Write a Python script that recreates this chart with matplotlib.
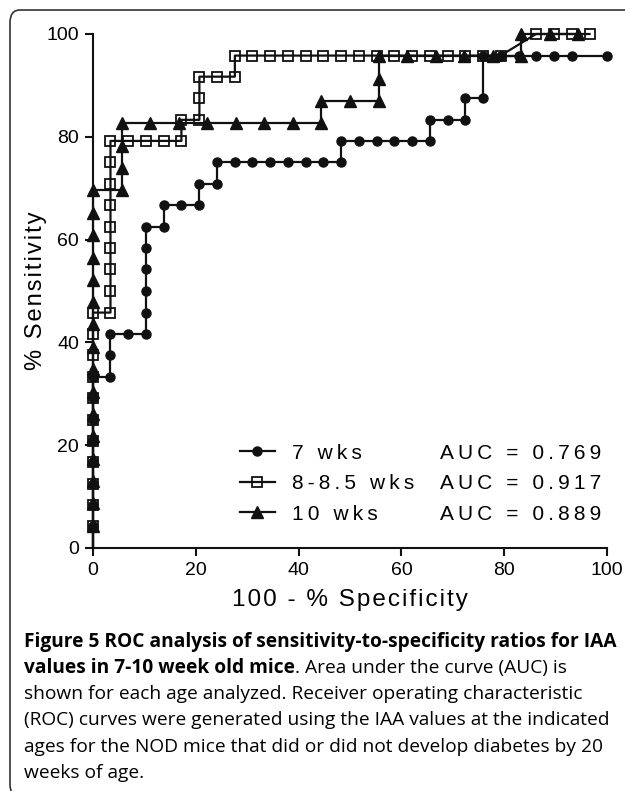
import matplotlib
matplotlib.use("Agg")
import matplotlib.pyplot as plt
from matplotlib.patches import FancyBboxPatch

# ROC points: x = 100 - % specificity, y = % sensitivity
x_7wk = [0, 0, 0, 0, 0, 0, 0, 0, 0,
         3.4, 3.4, 3.4, 6.9, 10.3, 10.3, 10.3, 10.3, 10.3, 10.3,
         13.8, 13.8, 17.2, 20.7, 20.7, 24.1, 24.1, 27.6, 31.0, 34.5, 37.9, 41.4, 44.8, 48.3,
         48.3, 51.7, 55.2, 58.6, 62.1, 65.5, 65.5, 69.0, 72.4, 72.4, 75.9, 75.9,
         79.3, 82.8, 86.2, 89.7, 93.1, 100]
y_7wk = [0, 4.2, 8.3, 12.5, 16.7, 20.8, 25.0, 29.2, 33.3,
         33.3, 37.5, 41.7, 41.7, 41.7, 45.8, 50.0, 54.2, 58.3, 62.5,
         62.5, 66.7, 66.7, 66.7, 70.8, 70.8, 75.0, 75.0, 75.0, 75.0, 75.0, 75.0, 75.0, 75.0,
         79.2, 79.2, 79.2, 79.2, 79.2, 79.2, 83.3, 83.3, 83.3, 87.5, 87.5, 95.8,
         95.8, 95.8, 95.8, 95.8, 95.8, 95.8]

x_8wk = [0, 0, 0, 0, 0, 0, 0, 0, 0, 0, 0, 0,
         3.4, 3.4, 3.4, 3.4, 3.4, 3.4, 3.4, 3.4, 3.4,
         6.9, 10.3, 13.8, 17.2,
         17.2, 20.7, 20.7, 20.7, 24.1, 27.6, 27.6,
         31.0, 34.5, 37.9, 41.4, 44.8, 48.3, 51.7, 55.2, 58.6, 62.1, 65.5, 69.0, 72.4, 75.9, 79.3,
         86.2, 89.7, 93.1, 96.6]
y_8wk = [0, 4.2, 8.3, 12.5, 16.7, 20.8, 25.0, 29.2, 33.3, 37.5, 41.7, 45.8,
         45.8, 50.0, 54.2, 58.3, 62.5, 66.7, 70.8, 75.0, 79.2,
         79.2, 79.2, 79.2, 79.2,
         83.3, 83.3, 87.5, 91.7, 91.7, 91.7, 95.8,
         95.8, 95.8, 95.8, 95.8, 95.8, 95.8, 95.8, 95.8, 95.8, 95.8, 95.8, 95.8, 95.8, 95.8, 95.8,
         100, 100, 100, 100]

x_10wk = [0, 0, 0, 0, 0, 0, 0, 0, 0, 0, 0, 0, 0, 0, 0, 0, 0,
          5.6, 5.6, 5.6, 5.6,
          11.1, 16.7, 22.2, 27.8, 33.3, 38.9, 44.4,
          44.4, 50.0, 55.6, 55.6, 55.6,
          61.1, 66.7, 72.2, 77.8, 83.3,
          83.3, 88.9, 94.4]
y_10wk = [0, 4.3, 8.7, 13.0, 17.4, 21.7, 26.1, 30.4, 34.8, 39.1, 43.5, 47.8, 52.2, 56.5, 60.9, 65.2, 69.6,
          69.6, 73.9, 78.3, 82.6,
          82.6, 82.6, 82.6, 82.6, 82.6, 82.6, 82.6,
          87.0, 87.0, 87.0, 91.3, 95.7,
          95.7, 95.7, 95.7, 95.7, 95.7,
          100, 100, 100]

labels = ["7 wks", "8-8.5 wks", "10 wks"]
auc = ["0.769", "0.917", "0.889"]

caption_bold1 = "Figure 5 ROC analysis of sensitivity-to-specificity ratios for IAA"
caption_bold2 = "values in 7-10 week old mice"
caption_rest2 = ". Area under the curve (AUC) is"
caption_lines = ["shown for each age analyzed. Receiver operating characteristic",
                 "(ROC) curves were generated using the IAA values at the indicated",
                 "ages for the NOD mice that did or did not develop diabetes by 20",
                 "weeks of age."]

W, H = 625, 791
SANS = ["Liberation Sans", "DejaVu Sans"]
CAP = ["Open Sans", "DejaVu Sans"]


def spaced(s, sp="\u2009"):
    # the original lettering is tracked out a little
    return sp.join(s)


fig = plt.figure(figsize=(W / 100, H / 100), dpi=100)
ax = fig.add_axes([93 / W, 1 - 548 / H, 514 / W, 514 / H])

style = dict(color="#111111", lw=1.6, clip_on=False, markevery=slice(1, None))
l7, = ax.plot(x_7wk, y_7wk, marker="o", ms=6.5, **style)
l8, = ax.plot(x_8wk, y_8wk, marker="s", ms=7, mfc="none", mew=1.3, **style)
l10, = ax.plot(x_10wk, y_10wk, marker="^", ms=8, **style)

ax.set_xlim(0, 100)
ax.set_ylim(0, 100)
ax.set_xticks([0, 20, 40, 60, 80, 100])
ax.set_yticks([0, 20, 40, 60, 80, 100])
for s in ["top", "right"]:
    ax.spines[s].set_visible(False)
for s in ["left", "bottom"]:
    ax.spines[s].set_linewidth(1.5)
    ax.spines[s].set_color("#111111")
ax.tick_params(width=1.5, length=6, labelsize=14, color="#111111", pad=4)
for t in ax.get_xticklabels() + ax.get_yticklabels():
    t.set_family(SANS)

ax.set_xlabel(spaced("100 - % Specificity", "\u200a"), fontsize=17.5, family=SANS, labelpad=7)
ax.set_ylabel(spaced("% Sensitivity", "\u200a"), fontsize=17, family=SANS)
ax.yaxis.set_label_coords(-0.09, 0.5)

leg = ax.legend([l7, l8, l10], [spaced(s) for s in labels], loc="center left",
                bbox_to_anchor=(0.265, 0.125), frameon=False, handlelength=1.7,
                handletextpad=0.8, labelspacing=0.55, borderpad=0,
                prop={"family": SANS, "size": 15})

fig.canvas.draw()
inv = ax.transAxes.inverted()
for t, a in zip(leg.get_texts(), auc):
    bb = t.get_window_extent()
    yc = inv.transform((0, (bb.y0 + bb.y1) / 2))[1]
    ax.text(0.675, yc, spaced("AUC = " + a), transform=ax.transAxes,
            va="center", ha="left", fontsize=15, family=SANS)

# caption under the chart
rend = fig.canvas.get_renderer()
x0 = 24 / W
cap_size = 13.8
fig.text(x0, 1 - 642 / H, caption_bold1, fontsize=cap_size, weight="bold",
         family=CAP, va="center")
tb = fig.text(x0, 1 - 668 / H, caption_bold2, fontsize=cap_size, weight="bold",
              family=CAP, va="center")
wb = tb.get_window_extent(rend).width / W
fig.text(x0 + wb, 1 - 668 / H, caption_rest2, fontsize=cap_size, family=CAP, va="center")
for i, line in enumerate(caption_lines):
    fig.text(x0, 1 - (694 + 26.3 * i) / H, line, fontsize=cap_size, family=CAP, va="center")

# rounded frame, cut off by the right and bottom edges
frame = FancyBboxPatch((10 / W, -6 / H), 700 / W, 787 / H,
                       boxstyle="round,pad=0,rounding_size=0.016",
                       transform=fig.transFigure, fill=False, ec="#333333", lw=1.2)
fig.patches.append(frame)

fig.savefig("out.png", dpi=100)
